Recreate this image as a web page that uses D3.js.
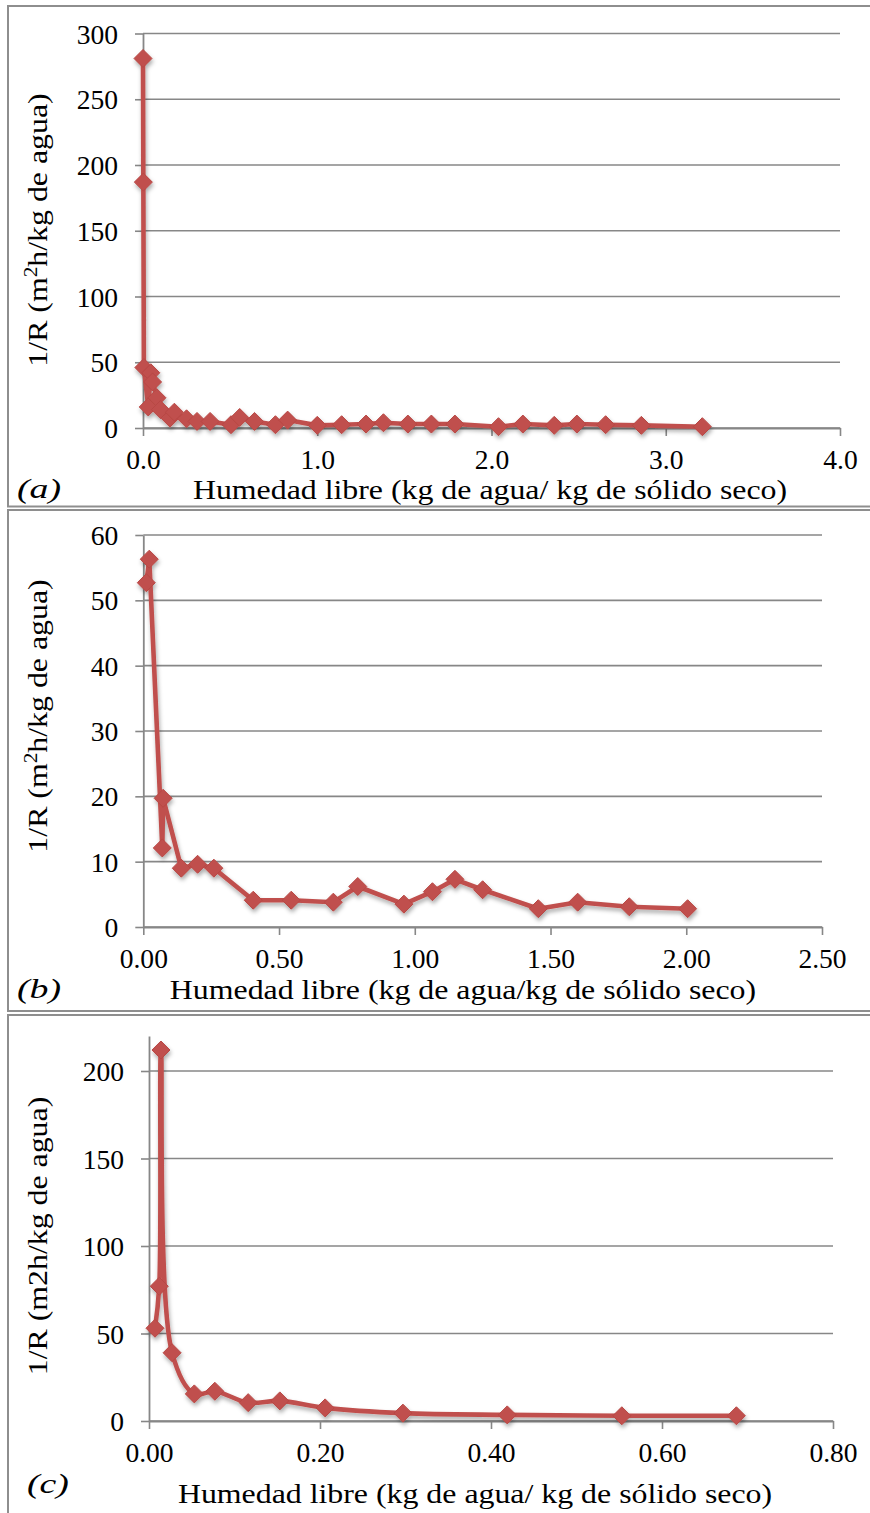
<!DOCTYPE html>
<html>
<head>
<meta charset="utf-8">
<script src="https://cdn.jsdelivr.net/npm/d3@7"></script>
<style>
  body { margin: 0; background: #fff; }
  svg { display: block; }
  text { font-family: "Liberation Serif", "Times New Roman", serif; fill: #000; }
</style>
</head>
<body>
<svg id="fig" width="870" height="1513"></svg>
<script>
// ---- Panel (a): free moisture vs 1/R ----
const humedadA = [0.000, 0.002, 0.005, 0.030, 0.045, 0.055, 0.080, 0.100, 0.155, 0.180,
                  0.250, 0.310, 0.385, 0.505, 0.555, 0.640, 0.760, 0.830, 1.000, 1.140,
                  1.280, 1.380, 1.520, 1.655, 1.790, 2.040, 2.180, 2.360, 2.490, 2.655,
                  2.860, 3.210];
const inversaRA = [281, 187, 46, 16, 42, 35, 23, 14, 7.5, 12,
                   7, 5, 5, 2.5, 8, 5, 2.5, 6, 2, 2.5,
                   3, 4, 3, 3, 3, 1, 3, 2, 3, 2.5,
                   2, 1];
const ticksXA = [0, 1, 2, 3, 4];
const ticksYA = [0, 50, 100, 150, 200, 250, 300];

// ---- Panel (b) ----
const humedadB = [0.011, 0.022, 0.070, 0.073, 0.140, 0.200, 0.260, 0.405, 0.545, 0.700,
                  0.790, 0.960, 1.065, 1.148, 1.250, 1.455, 1.600, 1.790, 2.005];
const inversaRB = [52.7, 56.3, 12.1, 19.7, 9.0, 9.6, 9.0, 4.1, 4.1, 3.8,
                   6.2, 3.5, 5.4, 7.3, 5.7, 2.8, 3.8, 3.1, 2.8];
const ticksXB = [0, 0.5, 1.0, 1.5, 2.0, 2.5];
const ticksYB = [0, 10, 20, 30, 40, 50, 60];

// ---- Panel (c) ----
const humedadC = [0.007, 0.012, 0.014, 0.027, 0.053, 0.077, 0.116, 0.153, 0.206, 0.297,
                  0.419, 0.553, 0.687];
const inversaRC = [53, 77, 212, 39, 15.5, 17, 10.5, 11.5, 7.5, 4.5,
                   3.5, 3, 3];
const ticksXC = [0, 0.2, 0.4, 0.6, 0.8];
const ticksYC = [0, 50, 100, 150, 200];

const RED = "#c0504d";
const GRID = "#878787";
const FRAME = "#8e8e8e";

const svg = d3.select("#fig");

// soft shadow under the series, as drawn by the spreadsheet style
const defs = svg.append("defs");
const f = defs.append("filter").attr("id", "shadow")
  .attr("x", "-20%").attr("y", "-20%").attr("width", "140%").attr("height", "140%");
f.append("feDropShadow").attr("dx", 1).attr("dy", 3).attr("stdDeviation", 2)
  .attr("flood-color", "#000").attr("flood-opacity", 0.33);

const panels = [
  {
    xs: humedadA, ys: inversaRA, xTicks: ticksXA, yTicks: ticksYA,
    xDomain: [0, 4], yDomain: [0, 300], xRange: [143, 840], yRange: [428, 33.5],
    xFmt: d3.format(".1f"), curve: d3.curveLinear,
    frame: [6, 506.5], tag: "(a)", tagX: 17, tagY: 498,
    title: "Humedad libre (kg de agua/ kg de sólido seco)", titleX: 490, titleY: 499,
    yTitleY: 230, sup: true
  },
  {
    xs: humedadB, ys: inversaRB, xTicks: ticksXB, yTicks: ticksYB,
    xDomain: [0, 2.5], yDomain: [0, 60], xRange: [143.3, 822], yRange: [927, 535],
    xFmt: d3.format(".2f"), curve: d3.curveLinear,
    frame: [510, 1011], tag: "(b)", tagX: 17, tagY: 998,
    title: "Humedad libre (kg de agua/kg de sólido seco)", titleX: 463, titleY: 999,
    yTitleY: 716, sup: true
  },
  {
    xs: humedadC, ys: inversaRC, xTicks: ticksXC, yTicks: ticksYC,
    xDomain: [0, 0.8], yDomain: [0, 220], xRange: [149, 833], yRange: [1421, 1036],
    xFmt: d3.format(".2f"), curve: d3.curveCatmullRom.alpha(0.5),
    frame: [1015, 1530], tag: "(c)", tagX: 27, tagY: 1493,
    title: "Humedad libre (kg de agua/ kg de sólido seco)", titleX: 475, titleY: 1503,
    yTitleY: 1236, sup: false
  }
];

const TICK_SIZE = 26.5;
const TICK_STRETCH = 1.04;
const TITLE_SIZE = 27;
const TITLE_STRETCH = 1.18;

panels.forEach(p => {
  // frame
  svg.append("rect")
    .attr("x", 8).attr("y", p.frame[0])
    .attr("width", 870).attr("height", p.frame[1] - p.frame[0])
    .attr("fill", "none").attr("stroke", FRAME).attr("stroke-width", 2);

  const x = d3.scaleLinear().domain(p.xDomain).range(p.xRange);
  const y = d3.scaleLinear().domain(p.yDomain).range(p.yRange);
  const g = svg.append("g");

  // horizontal gridlines
  g.append("g").selectAll("line").data(p.yTicks).join("line")
    .attr("x1", x(p.xDomain[0])).attr("x2", p.xRange[1])
    .attr("y1", d => y(d)).attr("y2", d => y(d))
    .attr("stroke", GRID).attr("stroke-width", 1.6);

  // y axis
  const ay = g.append("g").attr("transform", `translate(${x(p.xDomain[0])},0)`)
    .call(d3.axisLeft(y).tickValues(p.yTicks).tickSize(8).tickSizeOuter(0).tickFormat(d3.format("d")));
  // x axis
  const ax = g.append("g").attr("transform", `translate(0,${y(p.yDomain[0])})`)
    .call(d3.axisBottom(x).tickValues(p.xTicks).tickSize(8).tickSizeOuter(0).tickFormat(p.xFmt));

  [ay, ax].forEach(a => {
    a.select(".domain").attr("stroke", GRID).attr("stroke-width", 1.8);
    a.selectAll(".tick line").attr("stroke", GRID).attr("stroke-width", 1.6);
    a.selectAll("text").attr("font-size", TICK_SIZE).attr("fill", "#000")
      .attr("font-family", '"Liberation Serif", "Times New Roman", serif');
  });
  ay.selectAll(".tick text")
    .attr("x", -25 / TICK_STRETCH).attr("dy", null).attr("y", 9.5)
    .attr("transform", `scale(${TICK_STRETCH},1)`);
  ax.selectAll(".tick text")
    .attr("y", 41).attr("dy", null)
    .attr("transform", `scale(${TICK_STRETCH},1)`);

  // series
  const s = g.append("g").attr("filter", "url(#shadow)");
  const pts = p.xs.map((v, i) => [v, p.ys[i]]);
  s.append("path").datum(pts)
    .attr("d", d3.line().x(d => x(d[0])).y(d => y(d[1])).curve(p.curve))
    .attr("fill", "none").attr("stroke", RED).attr("stroke-width", 4.6)
    .attr("stroke-linejoin", "round");
  const r = 9;
  s.selectAll("path.mk").data(pts).join("path").attr("class", "mk")
    .attr("d", `M0,${-r}L${r},0L0,${r}L${-r},0Z`)
    .attr("transform", d => `translate(${x(d[0])},${y(d[1])})`)
    .attr("fill", RED).attr("stroke", "#b84744").attr("stroke-width", 1);

  // panel tag
  svg.append("text")
    .attr("transform", `translate(${p.tagX},${p.tagY}) scale(1.35,1)`)
    .attr("font-size", 28).attr("font-style", "italic")
    .text(p.tag);

  // x title
  svg.append("text")
    .attr("transform", `translate(${p.titleX},${p.titleY}) scale(${TITLE_STRETCH},1)`)
    .attr("text-anchor", "middle").attr("font-size", TITLE_SIZE)
    .text(p.title);

  // y title
  const yt = svg.append("text")
    .attr("transform", `translate(47,${p.yTitleY}) rotate(-90) scale(${TITLE_STRETCH},1)`)
    .attr("text-anchor", "middle").attr("font-size", TITLE_SIZE);
  if (p.sup) {
    yt.append("tspan").text("1/R (m");
    yt.append("tspan").attr("font-size", 18).attr("baseline-shift", "super").text("2");
    yt.append("tspan").text("h/kg de agua)");
  } else {
    yt.text("1/R (m2h/kg de agua)");
  }
});
</script>
</body>
</html>
